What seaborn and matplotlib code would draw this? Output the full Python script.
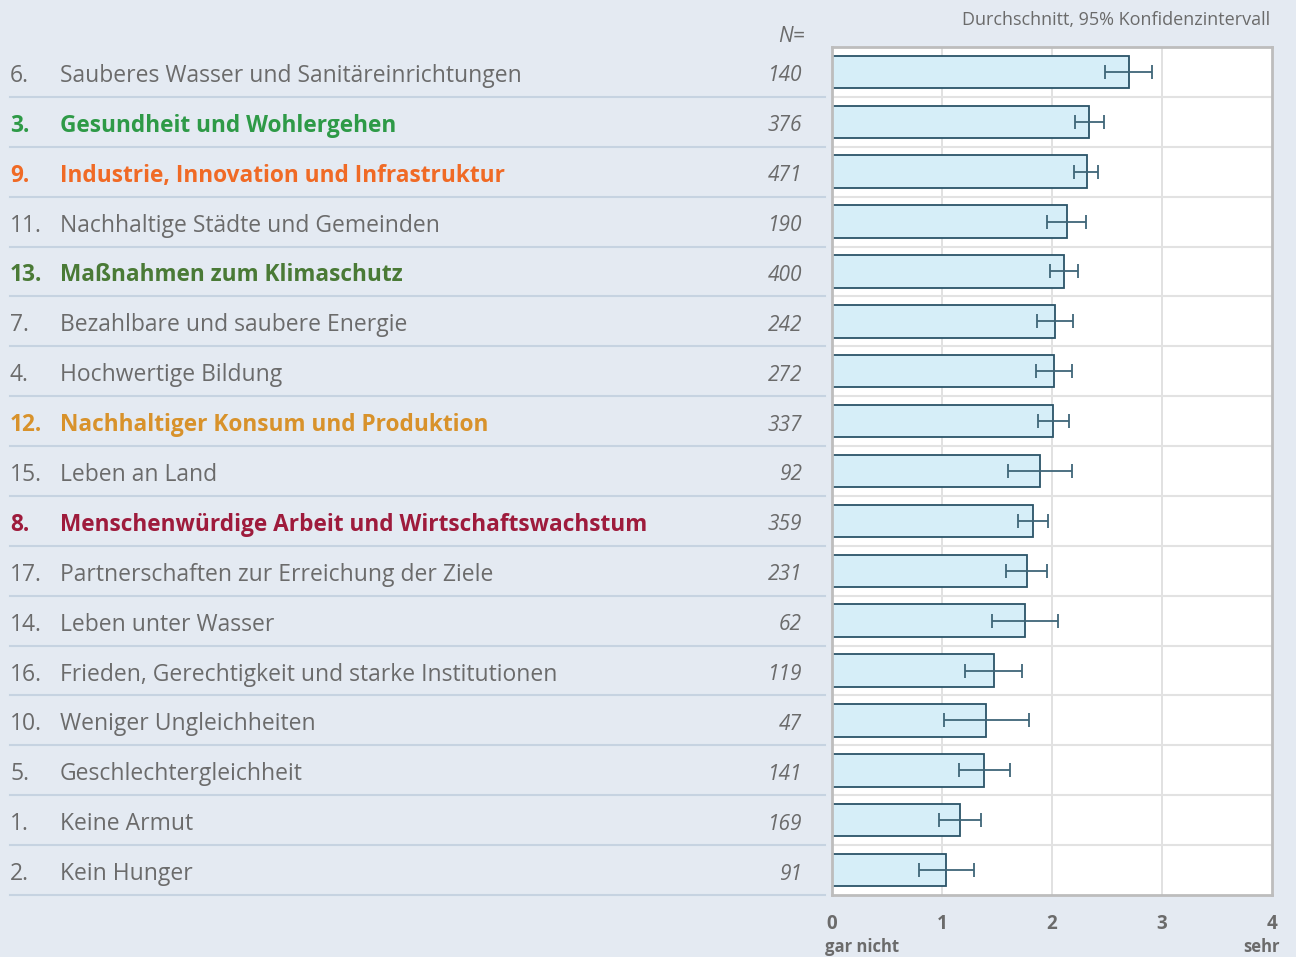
from matplotlib import pyplot as plt
from matplotlib import transforms
import seaborn as sns
import pandas as pd

# SDG ratings, sorted by mean
goal_nums = ["6.", "3.", "9.", "11.", "13.", "7.", "4.", "12.", "15.", "8.",
             "17.", "14.", "16.", "10.", "5.", "1.", "2."]
goal_names = [
    "Sauberes Wasser und Sanitäreinrichtungen",
    "Gesundheit und Wohlergehen",
    "Industrie, Innovation und Infrastruktur",
    "Nachhaltige Städte und Gemeinden",
    "Maßnahmen zum Klimaschutz",
    "Bezahlbare und saubere Energie",
    "Hochwertige Bildung",
    "Nachhaltiger Konsum und Produktion",
    "Leben an Land",
    "Menschenwürdige Arbeit und Wirtschaftswachstum",
    "Partnerschaften zur Erreichung der Ziele",
    "Leben unter Wasser",
    "Frieden, Gerechtigkeit und starke Institutionen",
    "Weniger Ungleichheiten",
    "Geschlechtergleichheit",
    "Keine Armut",
    "Kein Hunger",
]
n_obs = [140, 376, 471, 190, 400, 242, 272, 337, 92, 359, 231, 62, 119, 47, 141, 169, 91]
means = [2.70, 2.34, 2.32, 2.14, 2.11, 2.03, 2.02, 2.01, 1.89, 1.83,
         1.77, 1.75, 1.47, 1.40, 1.38, 1.16, 1.04]
ci_low = [2.48, 2.21, 2.20, 1.95, 1.98, 1.86, 1.85, 1.87, 1.60, 1.69,
          1.58, 1.45, 1.21, 1.02, 1.15, 0.97, 0.79]
ci_high = [2.91, 2.47, 2.42, 2.31, 2.24, 2.19, 2.18, 2.15, 2.18, 1.96,
           1.95, 2.05, 1.73, 1.79, 1.62, 1.35, 1.29]

# highlighted goals
highlight = {
    "3.": "#2e9a47",
    "9.": "#f06a25",
    "13.": "#4a7a36",
    "12.": "#d8922b",
    "8.": "#9e1b3c",
}
GREY = "#6b6b6b"
BG = "#e4eaf2"

df = pd.DataFrame({"goal": goal_names, "mean": means, "lo": ci_low, "hi": ci_high})

plt.rcParams["font.family"] = ["Open Sans", "DejaVu Sans"]

fig = plt.figure(figsize=(12.96, 9.57), dpi=100, facecolor=BG)
ax = fig.add_axes([832 / 1296, 1 - 895 / 957, 440 / 1296, 848 / 957])
ax.set_facecolor("white")

sns.barplot(data=df, x="mean", y="goal", order=goal_names, orient="h",
            color="#d6eef8", edgecolor="#2b5468", linewidth=1.3,
            width=0.65, errorbar=None, saturation=1, ax=ax)
ypos = range(len(goal_names))
ax.errorbar(df["mean"], ypos,
            xerr=[df["mean"] - df["lo"], df["hi"] - df["mean"]],
            fmt="none", ecolor="#3f6678", elinewidth=1.3, capsize=5, capthick=1.3)

ax.set_xlim(0, 4)
ax.set_ylim(len(goal_names) - 0.5, -0.5)
for xv in [1, 2, 3]:
    ax.axvline(xv, color="#dcdcdc", lw=1.2, zorder=0)
for i in range(len(goal_names) - 1):
    ax.axhline(i + 0.5, color="#e2e2e2", lw=1.5, zorder=0)
for s in ax.spines.values():
    s.set_color("#bdbdbd")
    s.set_linewidth(2)
ax.set_xlabel("")
ax.set_ylabel("")
ax.set_yticks([])
ax.set_xticks([0, 1, 2, 3, 4])
ax.set_xticklabels(["0", "1", "2", "3", "4"], fontsize=13.5, fontweight="bold", color=GREY)
ax.tick_params(axis="x", length=0, pad=14)

# left side labels
tr = transforms.blended_transform_factory(fig.transFigure, ax.transData)
for i, (num, name, n) in enumerate(zip(goal_nums, goal_names, n_obs)):
    col = highlight.get(num, GREY)
    bold = num in highlight
    wt = "bold" if bold else "normal"
    fs = 16.3 if bold else 16.5
    ax.text(10 / 1296, i + 0.08, num, transform=tr, fontsize=fs, color=col,
            fontweight=wt, va="center", ha="left", clip_on=False)
    ax.text(60 / 1296, i + 0.08, name, transform=tr, fontsize=fs, color=col,
            fontweight=wt, va="center", ha="left", clip_on=False)
    ax.text(802 / 1296, i + 0.08, str(n), transform=tr, fontsize=15, color=GREY,
            style="italic", va="center", ha="right", clip_on=False)
    ax.plot([10 / 1296, 825 / 1296], [i + 0.5, i + 0.5], transform=tr,
            color="#c6d3e1", lw=1.5, clip_on=False)

fig.text(805 / 1296, 1 - 37 / 957, "N=", fontsize=15, color=GREY, style="italic",
         ha="right", va="center")
fig.text(1270 / 1296, 1 - 20 / 957, "Durchschnitt, 95% Konfidenzintervall",
         fontsize=13, color=GREY, ha="right", va="center")
fig.text(825 / 1296, 1 - 947 / 957, "gar nicht", fontsize=12, color=GREY,
         fontweight="bold", ha="left", va="center")
fig.text(1280 / 1296, 1 - 947 / 957, "sehr", fontsize=12, color=GREY,
         fontweight="bold", ha="right", va="center")

fig.savefig("out.png", dpi=100, facecolor=BG)
